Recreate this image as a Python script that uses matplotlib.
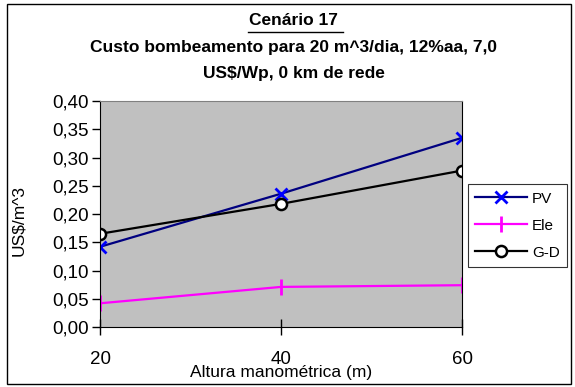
import matplotlib
matplotlib.use('Agg')
import matplotlib.pyplot as plt
from matplotlib.patches import Rectangle

plt.rcParams['font.family'] = ['Liberation Sans', 'DejaVu Sans']

altura = [20, 40, 60]
pv = [0.142, 0.236, 0.335]
ele = [0.042, 0.071, 0.074]
gd = [0.165, 0.218, 0.277]
yticks = [0.0, 0.05, 0.10, 0.15, 0.20, 0.25, 0.30, 0.35, 0.40]

fig = plt.figure(figsize=(5.75, 3.87), dpi=100)
ax = fig.add_axes([0.174, 0.155, 0.630, 0.584])
ax.set_facecolor('#c0c0c0')

ax.plot(altura, pv, color='#000080', lw=1.6, marker='x', ms=9, mew=2,
        mec='#0000ff', label='PV')
ax.plot(altura, ele, color='#ff00ff', lw=1.6, marker='|', ms=12, mew=2,
        mec='#ff00ff', label='Ele')
ax.plot(altura, gd, color='black', lw=1.6, marker='o', ms=8, mew=1.8,
        mfc='white', mec='black', label='G-D')

ax.set_xlim(20, 60)
ax.set_ylim(0, 0.40)
ax.set_xticks(altura)
ax.set_yticks(yticks)
ax.set_yticklabels([('%.2f' % v).replace('.', ',') for v in yticks])
ax.tick_params(axis='y', direction='out', length=6, width=1, labelsize=13.5, pad=2)
ax.tick_params(axis='x', direction='inout', length=12, width=1, labelsize=13.5, pad=11)

for s in ['left', 'bottom', 'right']:
    ax.spines[s].set_color('black')
ax.spines['top'].set_color('#808080')

ax.set_ylabel('US$/m^3', fontsize=12.5)
ax.yaxis.set_label_coords(-0.205, 0.47)
ax.set_xlabel('Altura manométrica (m)', fontsize=12.5)
ax.xaxis.set_label_coords(0.5, -0.168)

tx = 0.511
fig.text(tx, 0.946, 'Cenário 17', ha='center', va='center', fontsize=12.5,
         fontweight='bold')
fig.add_artist(plt.Line2D([0.431, 0.597], [0.917, 0.917], color='black', lw=1))
fig.text(tx, 0.878, 'Custo bombeamento para 20 m^3/dia, 12%aa, 7,0', ha='center',
         va='center', fontsize=12.5, fontweight='bold')
fig.text(tx, 0.811, 'US$/Wp, 0 km de rede', ha='center', va='center',
         fontsize=12.5, fontweight='bold')

leg = ax.legend(loc='center left', bbox_to_anchor=(1.015, 0.449), fontsize=11,
                frameon=True, fancybox=False, edgecolor='black', handlelength=3.4,
                borderpad=0.5, labelspacing=0.85, handletextpad=0.3, borderaxespad=0)
leg.get_frame().set_linewidth(0.8)

fig.add_artist(Rectangle((0.012, 0.008), 0.981, 0.982, transform=fig.transFigure,
                         fill=False, edgecolor='black', lw=1))

plt.savefig('out.png', dpi=100)
